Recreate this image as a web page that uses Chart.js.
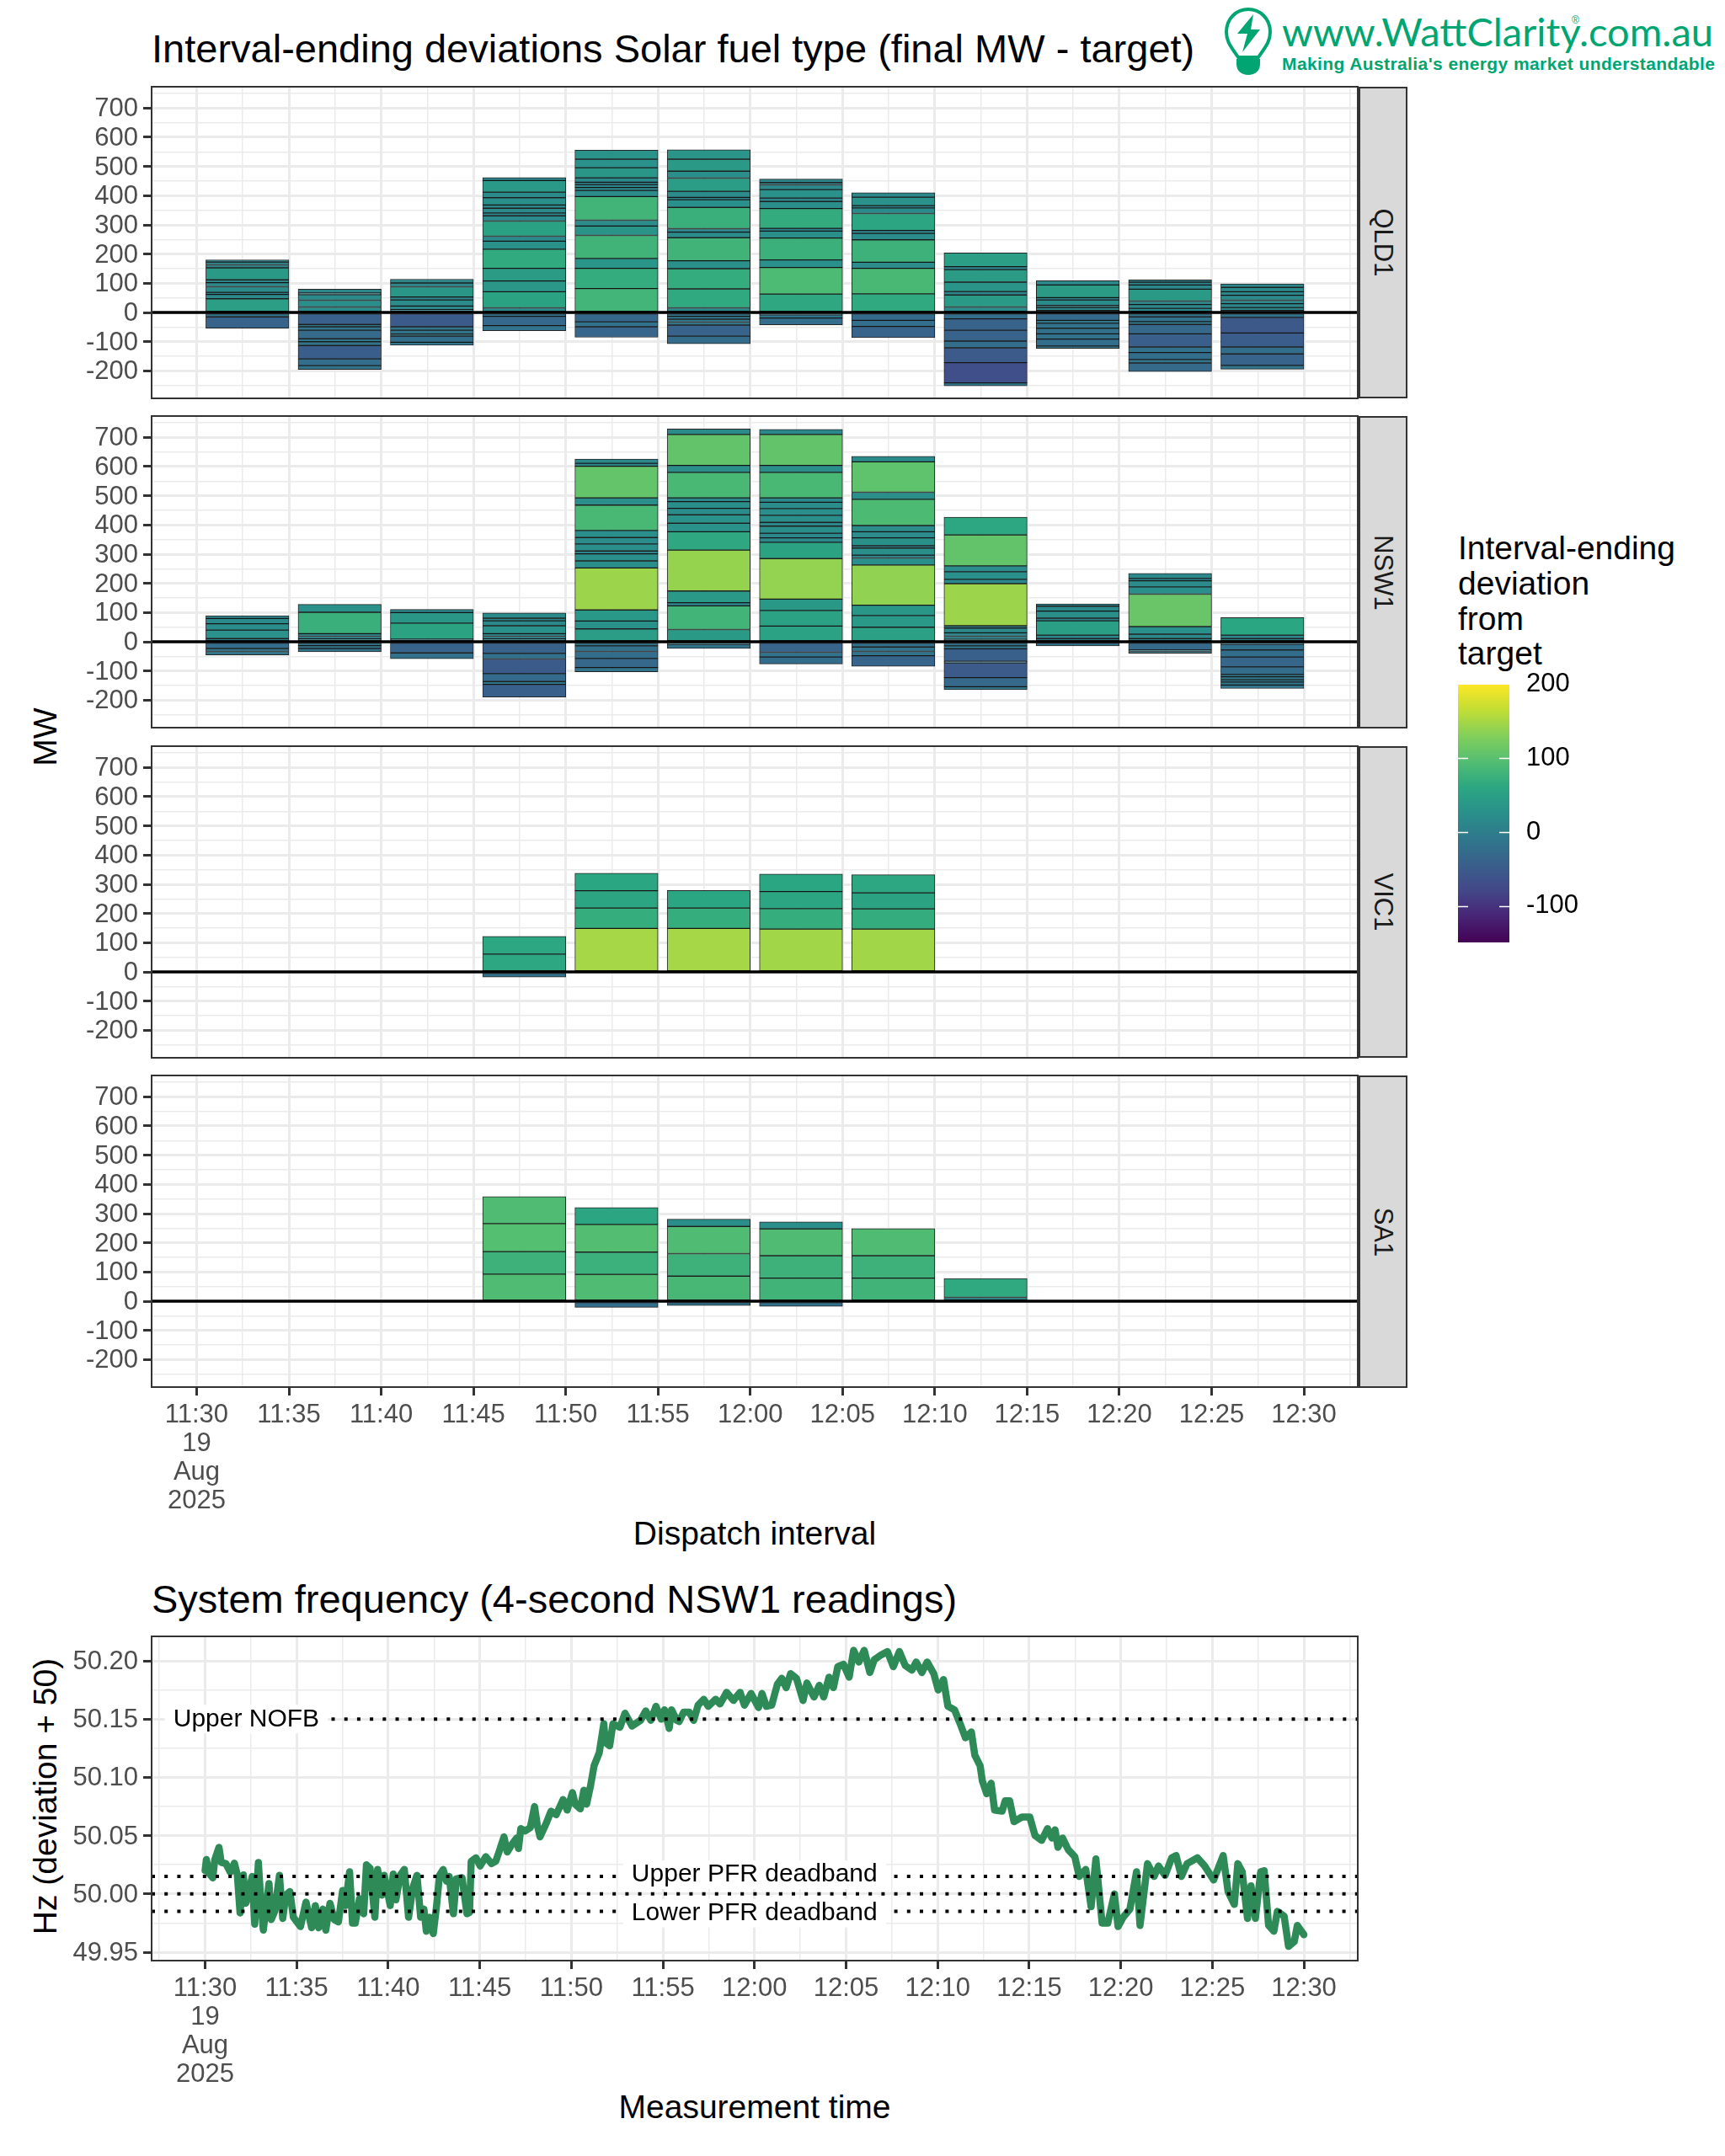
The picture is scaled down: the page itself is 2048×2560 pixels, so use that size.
<!DOCTYPE html>
<html lang="en">
<head>
  <meta charset="UTF-8">
  <title>Interval-ending deviations Solar fuel type</title>
  <script src="https://cdn.jsdelivr.net/npm/chart.js"></script>
  <style>
    html, body { margin: 0; padding: 0; background: #fff; }
    body { position: relative; width: 2048px; height: 2560px; overflow: hidden; font-family: "Liberation Sans", Arial, sans-serif; }
    canvas { position: absolute; }
    .txt { position: absolute; white-space: nowrap; color: #000; }
    .strip { position: absolute; left: 1612px; width: 59px; background: #d9d9d9; border: 2px solid #333; border-left-width: 3px; box-sizing: border-box; }
    .strip span { position: absolute; left: 50%; top: 50%; transform: translate(-50%, -50%) rotate(90deg); font-size: 31px; color: #1a1a1a; }
  </style>
</head>
<body>

  <div class="txt" style="left:180px;top:57px;transform:translateY(-50%);font-size:47px">Interval-ending deviations Solar fuel type (final MW - target)</div>
  <div class="txt" style="left:180px;top:1898px;transform:translateY(-50%);font-size:47px">System frequency (4-second NSW1 readings)</div>
  <div class="txt" style="left:896px;top:1821px;transform:translate(-50%,-50%);font-size:39px">Dispatch interval</div>
  <div class="txt" style="left:896px;top:2502px;transform:translate(-50%,-50%);font-size:39px">Measurement time</div>
  <div class="txt" style="left:54px;top:875px;transform:translate(-50%,-50%) rotate(-90deg);font-size:39px">MW</div>
  <div class="txt" style="left:54px;top:2133px;transform:translate(-50%,-50%) rotate(-90deg);font-size:39px">Hz (deviation + 50)</div>
  <div class="txt" style="left:1731px;top:630px;font-size:39px;line-height:41.8px">Interval-ending<br>deviation<br>from<br>target</div>

  <div class="strip" style="top:103px;height:370px"><span>QLD1</span></div>
  <div class="strip" style="top:494px;height:371px"><span>NSW1</span></div>
  <div class="strip" style="top:886px;height:370px"><span>VIC1</span></div>
  <div class="strip" style="top:1277px;height:371px"><span>SA1</span></div>

  <svg style="position:absolute;left:1440px;top:0" width="608" height="100" viewBox="1440 0 608 100">
    <path d="M1470 68 C1462 56 1456 50 1456 38 C1456 22 1468 11 1482 11 C1496 11 1508 22 1508 38 C1508 50 1502 56 1494 68 Z" fill="none" stroke="#00a572" stroke-width="4"/>
    <path d="M1468 70 H1496 V76 C1496 84 1490 89 1482 89 C1474 89 1468 84 1468 76 Z" fill="#00a572"/>
    <polygon points="1488,17 1469,40 1481,40 1475,62 1496,35 1485,35" fill="#00a572"/>
    <text x="1522" y="55" font-family="Lato, 'Liberation Sans'" font-size="46" fill="#00a572" textLength="512" lengthAdjust="spacingAndGlyphs">www.WattClarity.com.au</text>
    <text x="1866" y="28" font-family="'Liberation Sans'" font-size="12" fill="#00a572">®</text>
    <text x="1522" y="83" font-family="'Liberation Sans'" font-weight="700" font-size="21" fill="#00a572" textLength="514" lengthAdjust="spacing">Making Australia's energy market understandable</text>
  </svg>

  <script>
    // minutes after 11:30 at which each dispatch interval ends
    const intervalEnds = [5, 10, 15, 20, 25, 30, 35, 40, 45, 50, 55, 60];
    const xMajor = [0, 5, 10, 15, 20, 25, 30, 35, 40, 45, 50, 55, 60];
    const xMinor = [-2.5, 2.5, 7.5, 12.5, 17.5, 22.5, 27.5, 32.5, 37.5, 42.5, 47.5, 52.5, 57.5, 62.5];
    const xLabels = [['11:30', '19', 'Aug', '2025'], '11:35', '11:40', '11:45', '11:50', '11:55', '12:00', '12:05', '12:10', '12:15', '12:20', '12:25', '12:30'];
    const yMajor = [-200, -100, 0, 100, 200, 300, 400, 500, 600, 700];
    const yMinor = [-250, -150, -50, 50, 150, 250, 350, 450, 550, 650, 750];
    const hzMajor = [49.95, 50, 50.05, 50.1, 50.15, 50.2];
    const hzMinor = [49.975, 50.025, 50.075, 50.125, 50.175];
    const legendMajor = [200, 100, 0, -100];
    const legendStubs = [100, 0, -100];
    // viridis, as it comes out slightly muted in the published picture
    const viridisStops = ['#440154', '#482475', '#434788', '#3a5f8b', '#2f778c', '#2a8f8b', '#2ba682', '#52bd72', '#82cf5b', '#c0dd35', '#fde725'];
    const devMin = -149;
    const devMax = 199;

    // unit deviations per interval, stacked outward from zero
    const qld1Pos = [
      [47, 15, 7, 19, 14, 10, 41, 10, 10, 7],
      [19, 23, 19, 6, 13],
      [10, 12, 21, 10, 35, 13, 13],
      [16, 55, 37, 43, 66, 27, 17, 52, 18, 10, 16, 11, 25, 19, 40, 10],
      [82, 69, 34, 79, 32, 20, 81, 21, 10, 10, 8, 15, 35, 29, 31],
      [16, 65, 69, 27, 79, 19, 12, 73, 26, 8, 21, 45, 24, 41, 32],
      [63, 91, 26, 75, 24, 9, 68, 24, 12, 29, 16, 8, 12],
      [64, 87, 21, 77, 22, 10, 58, 19, 8, 29, 15],
      [19, 41, 12, 32, 43, 10, 47],
      [7, 10, 7, 19, 8, 43, 15],
      [14, 13, 12, 41, 14, 10, 8],
      [7, 10, 13, 12, 17, 12, 15, 12]
    ];
    const qld1Neg = [
      [-15, -39],
      [-41, -8, -12, -29, -10, -13, -46, -23, -13],
      [-49, -12, -13, -7, -21, -10],
      [-13, -32, -17],
      [-32, -17, -36],
      [-13, -10, -10, -10, -38, -26],
      [-8, -11, -23],
      [-27, -21, -38],
      [-22, -39, -37, -23, -51, -69, -10],
      [-27, -10, -17, -19, -18, -24, -8],
      [-15, -16, -10, -32, -45, -19, -24, -12, -29],
      [-17, -53, -48, -24, -39, -13]
    ];
    const nsw1Pos = [
      [11, 29, 22, 18, 9],
      [10, 9, 9, 73, 27],
      [9, 55, 36, 11],
      [10, 9, 9, 27, 17, 9, 18],
      [44, 27, 38, 144, 24, 24, 10, 24, 22, 24, 87, 25, 108, 10, 15],
      [42, 81, 11, 40, 140, 63, 29, 29, 22, 23, 13, 87, 24, 106, 19],
      [54, 53, 39, 139, 56, 15, 16, 24, 13, 24, 23, 22, 15, 87, 24, 106, 17],
      [50, 40, 35, 138, 24, 10, 24, 8, 27, 21, 21, 90, 24, 104, 19],
      [8, 11, 12, 16, 8, 144, 15, 26, 20, 106, 61],
      [11, 12, 49, 9, 24, 17, 8],
      [11, 15, 26, 111, 25, 21, 8, 17],
      [11, 12, 60]
    ];
    const nsw1Neg = [
      [-23, -10, -12],
      [-13, -10, -11],
      [-38, -20],
      [-40, -19, -50, -27, -10, -43],
      [-14, -19, -24, -31, -15],
      [-9, -14],
      [-36, -16, -24],
      [-18, -15, -15, -36],
      [-14, -10, -43, -5, -51, -31, -10],
      [-14],
      [-28, -5, -6],
      [-9, -19, -24, -34, -26, -8, -10, -8, -10, -12]
    ];
    const vic1Pos = [[], [], [], [61, 61], [149, 70, 59, 60], [149, 70, 60], [147, 70, 58, 60], [147, 69, 55, 62], [], [], [], []];
    const vic1Neg = [[], [], [], [-18], [], [], [], [], [], [], [], []];
    const sa1Pos = [[], [], [], [93, 77, 96, 92], [92, 76, 95, 58], [86, 77, 93, 25], [79, 77, 92, 24], [79, 77, 93], [13, 65], [], [], []];
    const sa1Neg = [[], [], [], [], [-21], [-15], [-18], [], [], [], [], []];

    // NSW1 frequency trace, minutes after 11:30 and Hz
    const freqMin = [0, .07, .22, .42, .53, .76, .88, 1.14, 1.37, 1.6, 1.76, 1.91, 2.09, 2.22, 2.34, 2.57, 2.71, 2.91, 3.03, 3.18, 3.34, 3.49, 3.61, 3.8, 4.06, 4.24, 4.41, 4.63, 4.82, 5.21, 5.51, 5.82, 6.02, 6.2, 6.43, 6.59, 6.82, 7.05, 7.28, 7.51, 7.66, 7.89, 8.05, 8.2, 8.43, 8.66, 8.81, 9.01, 9.27, 9.42, 9.65, 9.78, 9.96, 10.11, 10.27, 10.42, 10.65, 10.88, 11.11, 11.34, 11.57, 11.77, 11.95, 12.08, 12.26, 12.46, 12.64, 12.8, 13, 13.18, 13.33, 13.56, 13.72, 14.03, 14.3, 14.44, 14.53, 14.79, 15.02, 15.33, 15.64, 15.87, 16.07, 16.32, 16.5, 16.73, 17.01, 17.11, 17.24, 17.48, 17.76, 17.99, 18.14, 18.29, 18.61, 18.89, 19.17, 19.55, 19.77, 20.06, 20.21, 20.49, 20.68, 20.83, 21.05, 21.24, 21.52, 21.77, 21.86, 22.09, 22.27, 22.65, 22.93, 23.31, 23.78, 24.06, 24.34, 24.62, 24.91, 25.09, 25.34, 25.47, 25.75, 25.89, 26.13, 26.44, 26.68, 26.92, 27.23, 27.47, 27.88, 28.12, 28.48, 28.85, 29.21, 29.45, 29.81, 30.22, 30.41, 30.65, 30.94, 31.25, 31.49, 31.73, 31.97, 32.29, 32.65, 32.86, 33.25, 33.54, 33.78, 34.07, 34.31, 34.55, 34.86, 35.17, 35.41, 35.7, 35.99, 36.3, 36.54, 36.9, 37.26, 37.58, 37.91, 38.23, 38.59, 38.83, 39.14, 39.43, 39.79, 40.03, 40.32, 40.56, 40.92, 41.23, 41.52, 41.84, 42.03, 42.32, 42.44, 42.68, 42.92, 43.11, 43.52, 43.69, 43.93, 44.17, 44.6, 45.03, 45.32, 45.68, 46, 46.24, 46.41, 46.57, 46.82, 47.13, 47.49, 47.73, 48.09, 48.38, 48.64, 48.98, 49.29, 49.65, 49.85, 50.13, 50.5, 50.86, 51.05, 51.46, 51.82, 52.06, 52.42, 52.78, 53.02, 53.31, 53.62, 54.18, 54.58, 55.07, 55.59, 55.86, 56.2, 56.39, 56.63, 56.92, 57.11, 57.35, 57.64, 57.83, 58.07, 58.36, 58.55, 58.92, 59.16, 59.47, 59.64, 60];
    const freqHz = [50.02, 50.0295, 50.0175, 50.0138, 50.0295, 50.04, 50.027, 50.026, 50.0187, 50.0264, 50.0163, 49.9837, 50.0163, 49.992, 49.998, 50.015, 49.974, 50.027, 49.997, 49.969, 49.99, 50.009, 49.978, 49.985, 50.016, 49.979, 49.999, 50.002, 49.98, 49.972, 49.993, 49.971, 49.99, 49.971, 49.987, 49.969, 49.992, 49.978, 49.976, 50.003, 49.99, 50.019, 49.975, 49.975, 49.996, 49.983, 50.025, 50.022, 49.98, 50.021, 49.999, 50.016, 50.002, 49.99, 50.017, 49.995, 50.016, 50.021, 49.98, 50.005, 50.016, 49.98, 49.987, 49.968, 49.98, 49.966, 49.99, 50.016, 50.021, 50.011, 50.015, 49.983, 50.013, 50.014, 49.983, 49.984, 50.028, 50.031, 50.024, 50.032, 50.026, 50.028, 50.037, 50.049, 50.036, 50.042, 50.048, 50.039, 50.056, 50.054, 50.057, 50.075, 50.059, 50.049, 50.06, 50.071, 50.068, 50.081, 50.072, 50.087, 50.077, 50.073, 50.089, 50.077, 50.093, 50.11, 50.121, 50.146, 50.13, 50.127, 50.146, 50.143, 50.155, 50.144, 50.149, 50.157, 50.149, 50.161, 50.15, 50.158, 50.142, 50.158, 50.149, 50.148, 50.156, 50.156, 50.149, 50.162, 50.167, 50.161, 50.167, 50.163, 50.173, 50.166, 50.173, 50.162, 50.172, 50.16, 50.172, 50.161, 50.162, 50.18, 50.185, 50.177, 50.189, 50.185, 50.166, 50.181, 50.169, 50.179, 50.169, 50.186, 50.177, 50.195, 50.197, 50.186, 50.209, 50.199, 50.209, 50.19, 50.201, 50.205, 50.208, 50.195, 50.208, 50.196, 50.192, 50.199, 50.19, 50.199, 50.189, 50.175, 50.184, 50.161, 50.158, 50.146, 50.134, 50.139, 50.119, 50.11, 50.097, 50.086, 50.095, 50.072, 50.071, 50.08, 50.08, 50.062, 50.066, 50.066, 50.05, 50.046, 50.056, 50.048, 50.055, 50.04, 50.048, 50.038, 50.032, 50.015, 50.021, 49.989, 50.03, 49.975, 49.975, 50, 49.972, 49.98, 49.987, 50.019, 49.973, 50.026, 50.015, 50.024, 50.016, 50.031, 50.033, 50.015, 50.026, 50.031, 50.024, 50.012, 50.033, 50.002, 49.991, 50.026, 50.019, 49.979, 50.007, 49.979, 50.019, 50.02, 49.973, 49.968, 49.985, 49.981, 49.955, 49.959, 49.973, 49.965];

    // dotted reference levels: Hz and the minute each starts at
    const refHz = [50.15, 50.015, 50, 49.985];
    const refStart = [6.9, -2.92, -2.92, -2.92];
    const refEnd = 62.94;
    const refLabels = ['Upper NOFB', 'Upper PFR deadband', 'Lower PFR deadband'];
    const refLabelMin = [2.25, 30, 30];
    const refLabelHz = [50.15, 50.0165, 49.9835];

    const FONT = '"Liberation Sans", Arial, sans-serif';
    const barXMin = -2.44, barXMax = 62.92;
    const barYMin = -294, barYMax = 773;
    const segWidth = 98.6;

    function hexToRgb(h) {
      return [1, 3, 5].map(i => parseInt(h.slice(i, i + 2), 16));
    }

    function viridis(v) {
      const t = Math.min(1, Math.max(0, (v - devMin) / (devMax - devMin))) * (viridisStops.length - 1);
      const i = Math.min(viridisStops.length - 2, Math.floor(t));
      const a = hexToRgb(viridisStops[i]), b = hexToRgb(viridisStops[i + 1]);
      const c = a.map((x, k) => Math.round(x + (b[k] - x) * (t - i)));
      return `rgb(${c[0]},${c[1]},${c[2]})`;
    }

    function addCanvas(left, top, w, h) {
      const c = document.createElement('canvas');
      c.width = w;
      c.height = h;
      c.style.left = left + 'px';
      c.style.top = top + 'px';
      document.body.appendChild(c);
      return c;
    }

    const panelBorder = {
      id: 'panelBorder',
      afterDraw(chart) {
        const { ctx, chartArea: a } = chart;
        ctx.save();
        ctx.strokeStyle = '#333';
        ctx.lineWidth = 2;
        ctx.strokeRect(a.left, a.top, a.right - a.left, a.bottom - a.top);
        ctx.restore();
      }
    };

    const refText = {
      id: 'refText',
      afterDatasetsDraw(chart) {
        const { ctx, scales } = chart;
        ctx.save();
        ctx.font = '30px ' + FONT;
        ctx.textAlign = 'center';
        ctx.textBaseline = 'middle';
        refLabels.forEach((s, i) => {
          const x = scales.x.getPixelForValue(refLabelMin[i]);
          const y = scales.y.getPixelForValue(refLabelHz[i]);
          const w = ctx.measureText(s).width + 20;
          ctx.fillStyle = '#fff';
          ctx.fillRect(x - w / 2, y - 17, w, 34);
          ctx.fillStyle = '#000';
          ctx.fillText(s, x, y);
        });
        ctx.restore();
      }
    };

    function gridOpts(isMajor, tickMarks) {
      return {
        color: '#ebebeb',
        lineWidth: c => (isMajor(c.tick.value) ? 3 : 1.5),
        drawTicks: tickMarks,
        tickLength: 10,
        tickWidth: 3,
        tickColor: c => (isMajor(c.tick.value) ? '#333' : 'rgba(0,0,0,0)')
      };
    }

    function setTicks(major, minor) {
      return scale => {
        scale.ticks = major.concat(minor)
          .filter(v => v >= scale.min && v <= scale.max)
          .sort((a, b) => a - b)
          .map(v => ({ value: v }));
      };
    }

    // ggplot panels sit exactly where the layout says, so drop the label overhang
    function noOverhang(s) {
      s.paddingLeft = 0;
      s.paddingRight = 0;
      s.paddingTop = 0;
      s.paddingBottom = 0;
    }

    function xAxis(min, max, showLabels) {
      return {
        type: 'linear',
        min: min,
        max: max,
        offset: false,
        border: { display: false },
        afterBuildTicks: setTicks(xMajor, xMinor),
        afterFit: s => { s.height = showLabels ? 150 : 0; noOverhang(s); },
        grid: Object.assign(gridOpts(v => xMajor.includes(v), showLabels), { offset: false }),
        ticks: {
          display: showLabels,
          autoSkip: false,
          maxRotation: 0,
          minRotation: 0,
          padding: 6,
          color: '#4d4d4d',
          font: { family: FONT, size: 31, lineHeight: 1.1 },
          callback: v => {
            const i = xMajor.indexOf(v);
            return i < 0 ? '' : xLabels[i];
          }
        }
      };
    }

    function yAxis(min, max, major, minor, fmt) {
      return {
        type: 'linear',
        min: min,
        max: max,
        border: { display: false },
        afterBuildTicks: setTicks(major, minor),
        afterFit: s => { s.width = 180; noOverhang(s); },
        grid: gridOpts(v => major.some(m => Math.abs(m - v) < 1e-6), true),
        ticks: {
          autoSkip: false,
          padding: 6,
          labelOffset: 1.5,
          color: '#4d4d4d',
          font: { family: FONT, size: 31 },
          callback: v => (major.some(m => Math.abs(m - v) < 1e-6) ? fmt(v) : '')
        }
      };
    }

    const basePlugins = { legend: { display: false }, tooltip: { enabled: false }, title: { display: false } };

    function segmentsFrom(pos, neg) {
      const out = [];
      intervalEnds.forEach((end, i) => {
        let run = 0;
        pos[i].forEach(v => { out.push({ x: end - 2.25, y: [run, run + v], dev: v }); run += v; });
        run = 0;
        neg[i].forEach(v => { out.push({ x: end - 2.25, y: [run + v, run], dev: v }); run += v; });
      });
      return out;
    }

    function drawPanel(top, pos, neg, showLabels) {
      const segs = segmentsFrom(pos, neg);
      const h = showLabels ? 370 + 4 + 150 : 370 + 8;
      const canvas = addCanvas(0, top - 4, 1616, h);
      new Chart(canvas, {
        data: {
          datasets: [
            {
              type: 'line',
              order: 0,
              data: [{ x: barXMin, y: 0 }, { x: barXMax, y: 0 }],
              borderColor: '#000',
              borderWidth: 3.4,
              pointRadius: 0
            },
            {
              type: 'bar',
              order: 1,
              data: segs,
              backgroundColor: segs.map(s => viridis(s.dev)),
              borderColor: 'rgba(0,0,0,0.85)',
              borderWidth: 1,
              borderSkipped: false,
              barThickness: segWidth
            }
          ]
        },
        options: {
          responsive: false,
          animation: false,
          layout: { padding: { top: 4, right: 4, bottom: showLabels ? 0 : 4, left: 0 } },
          scales: {
            x: xAxis(barXMin, barXMax, showLabels),
            y: yAxis(barYMin, barYMax, yMajor, yMinor, v => String(v))
          },
          plugins: basePlugins
        },
        plugins: [panelBorder]
      });
    }

    drawPanel(103, qld1Pos, qld1Neg, false);
    drawPanel(494, nsw1Pos, nsw1Neg, false);
    drawPanel(886, vic1Pos, vic1Neg, false);
    drawPanel(1277, sa1Pos, sa1Neg, true);

    // frequency panel
    const refSets = refHz.map((hz, i) => ({
      order: 0,
      data: [{ x: refStart[i], y: hz }, { x: refEnd, y: hz }],
      borderColor: '#000',
      borderWidth: 4,
      borderDash: [4, 11.2],
      pointRadius: 0
    }));
    new Chart(addCanvas(0, 1939, 1616, 4 + 385 + 150), {
      type: 'line',
      data: {
        datasets: refSets.concat([{
          order: 1,
          data: freqMin.map((m, i) => ({ x: m, y: freqHz[i] })),
          borderColor: '#2e8b57',
          borderWidth: 8.5,
          borderJoinStyle: 'round',
          borderCapStyle: 'round',
          pointRadius: 0,
          tension: 0
        }])
      },
      options: {
        responsive: false,
        animation: false,
        layout: { padding: { top: 4, right: 4, bottom: 0, left: 0 } },
        scales: {
          x: xAxis(-2.92, 62.94, true),
          y: yAxis(49.9428, 50.2210, hzMajor, hzMinor, v => v.toFixed(2))
        },
        plugins: basePlugins
      },
      plugins: [panelBorder, refText]
    });

    // colour bar
    new Chart(addCanvas(1731, 793, 181, 346), {
      type: 'bar',
      data: {
        labels: ['dev'],
        datasets: [{
          data: [[devMin, devMax]],
          barPercentage: 1,
          categoryPercentage: 1,
          borderWidth: 0,
          backgroundColor: c => {
            const a = c.chart.chartArea;
            if (!a) return viridisStops[0];
            const g = c.chart.ctx.createLinearGradient(0, a.bottom, 0, a.top);
            viridisStops.forEach((s, i) => g.addColorStop(i / (viridisStops.length - 1), s));
            return g;
          }
        }]
      },
      options: {
        responsive: false,
        animation: false,
        layout: { padding: { top: 20, bottom: 20, left: 0, right: 0 } },
        scales: {
          x: { display: false },
          y: {
            position: 'right',
            min: devMin,
            max: devMax,
            border: { display: false },
            afterBuildTicks: s => { s.ticks = legendMajor.slice().reverse().map(v => ({ value: v })); },
            afterFit: s => { s.width = 120; noOverhang(s); },
            grid: { display: false, drawTicks: false },
            ticks: { padding: 20, color: '#000', font: { family: FONT, size: 31 }, callback: v => String(v) }
          }
        },
        plugins: basePlugins
      },
      plugins: [{
        id: 'stubs',
        afterDatasetsDraw(chart) {
          const { ctx, chartArea: a, scales } = chart;
          ctx.save();
          ctx.strokeStyle = '#fff';
          ctx.lineWidth = 1.5;
          legendStubs.forEach(v => {
            const y = Math.round(scales.y.getPixelForValue(v)) + 0.5;
            ctx.beginPath();
            ctx.moveTo(a.left, y);
            ctx.lineTo(a.left + 12, y);
            ctx.moveTo(a.right - 12, y);
            ctx.lineTo(a.right, y);
            ctx.stroke();
          });
          ctx.restore();
        }
      }]
    });
  </script>

</body>
</html>
